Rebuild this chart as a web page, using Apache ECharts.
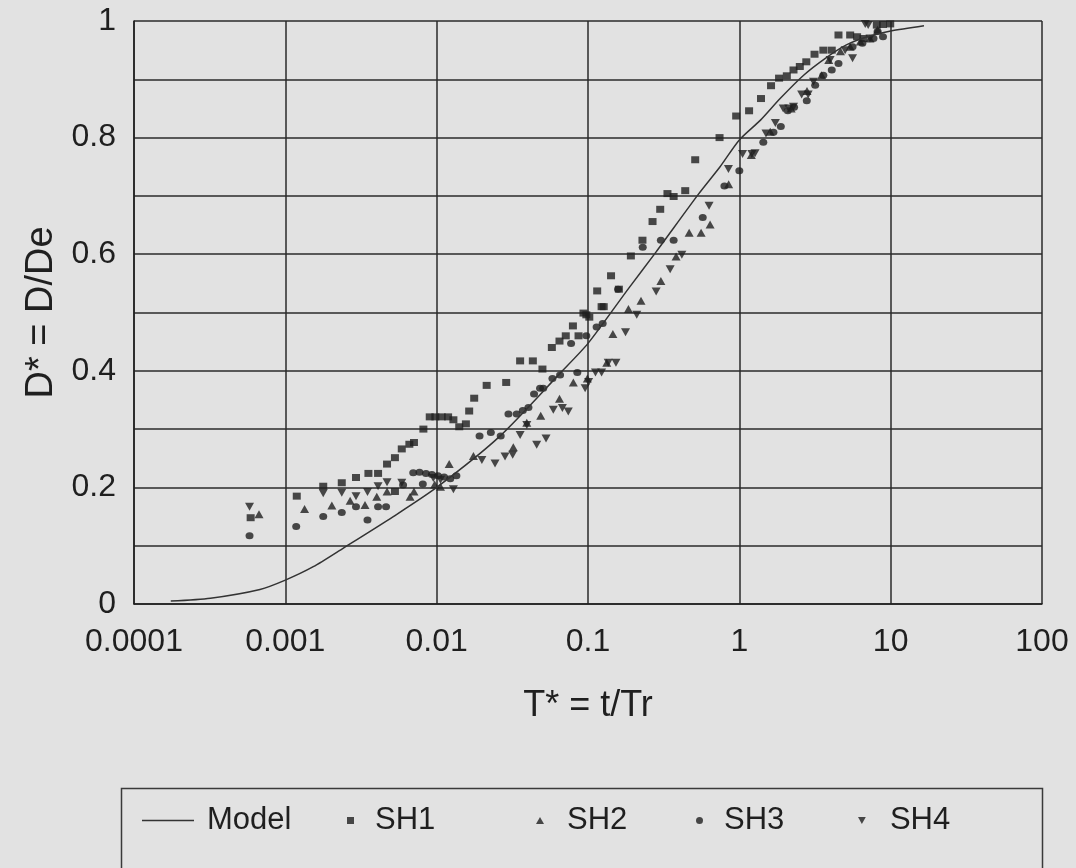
<!DOCTYPE html>
<html>
<head>
<meta charset="utf-8">
<script src="https://cdn.jsdelivr.net/npm/echarts@6/dist/echarts.min.js"></script>
<style>
html,body{margin:0;padding:0;background:#e2e2e2;}
#c{width:1076px;height:868px;}
</style>
</head>
<body>
<div id="c"></div>
<script>
var xTickLabels = ['0.0001','0.001','0.01','0.1','1','10','100'];
var yTickLabels = ['0','0.2','0.4','0.6','0.8','1'];

var model = [[0.000175,0.005],[0.00032,0.010],[0.00068,0.025],[0.001,0.041],[0.00153,0.064],[0.00242,0.096],[0.00517,0.150],[0.01,0.200],[0.0262,0.288],[0.0655,0.396],[0.1,0.447],[0.185,0.541],[0.282,0.604],[0.537,0.703],[0.746,0.750],[1.0,0.796],[1.38,0.830],[1.86,0.867],[2.66,0.907],[3.7,0.936],[5.1,0.959],[7.0,0.973],[10,0.983],[16.6,0.992]];

var sh1 = [[0.00059,0.148],[0.00119,0.185],[0.00178,0.202],[0.00236,0.208],[0.00293,0.217],[0.00354,0.224],[0.0041,0.224],[0.0047,0.240],[0.0053,0.251],[0.0053,0.193],[0.00588,0.266],[0.0066,0.274],[0.00708,0.277],[0.00817,0.300],[0.0090,0.321],[0.0098,0.321],[0.0108,0.321],[0.0119,0.321],[0.0129,0.316],[0.0141,0.304],[0.0156,0.309],[0.0164,0.331],[0.0177,0.353],[0.0214,0.375],[0.0288,0.380],[0.0356,0.417],[0.0432,0.417],[0.050,0.403],[0.0577,0.440],[0.0648,0.451],[0.0713,0.460],[0.0795,0.477],[0.0866,0.460],[0.0933,0.499],[0.0975,0.496],[0.102,0.492],[0.115,0.537],[0.123,0.510],[0.127,0.510],[0.142,0.563],[0.160,0.540],[0.192,0.597],[0.229,0.624],[0.267,0.656],[0.300,0.677],[0.335,0.704],[0.368,0.699],[0.439,0.709],[0.511,0.762],[0.740,0.800],[0.953,0.837],[1.16,0.846],[1.39,0.867],[1.62,0.889],[1.83,0.902],[2.06,0.906],[2.28,0.916],[2.51,0.922],[2.77,0.930],[3.14,0.943],[3.59,0.950],[4.08,0.950],[4.52,0.976],[5.40,0.976],[6.0,0.973],[6.61,0.970],[8.1,0.993],[8.9,0.994],[9.93,0.995]];

var sh2 = [[0.00067,0.154],[0.00134,0.163],[0.00203,0.169],[0.00268,0.177],[0.00336,0.170],[0.00402,0.184],[0.0047,0.193],[0.00667,0.184],[0.00708,0.193],[0.0097,0.205],[0.0106,0.201],[0.0121,0.240],[0.0175,0.254],[0.0321,0.269],[0.0394,0.311],[0.0487,0.323],[0.0648,0.352],[0.080,0.380],[0.099,0.387],[0.133,0.414],[0.146,0.463],[0.185,0.506],[0.224,0.520],[0.303,0.554],[0.382,0.596],[0.466,0.637],[0.559,0.637],[0.641,0.651],[0.85,0.72],[1.2,0.77],[1.6,0.81],[2.2,0.85],[2.8,0.88],[3.5,0.907],[3.9,0.933],[4.66,0.948],[5.4,0.956],[6.3,0.965],[7.3,0.97],[8.2,0.985]];

var sh3 = [[0.00058,0.117],[0.00118,0.133],[0.00178,0.150],[0.00236,0.157],[0.00293,0.167],[0.00349,0.144],[0.0041,0.167],[0.00463,0.167],[0.0060,0.204],[0.0070,0.225],[0.0077,0.226],[0.0085,0.224],[0.0081,0.206],[0.0093,0.222],[0.0102,0.220],[0.0112,0.218],[0.0123,0.215],[0.0135,0.220],[0.0192,0.288],[0.0228,0.294],[0.0265,0.288],[0.0298,0.326],[0.0338,0.326],[0.0371,0.332],[0.0404,0.337],[0.044,0.360],[0.0482,0.370],[0.0506,0.370],[0.0582,0.387],[0.0654,0.393],[0.0773,0.447],[0.085,0.397],[0.0975,0.460],[0.114,0.475],[0.125,0.481],[0.158,0.540],[0.230,0.612],[0.303,0.624],[0.368,0.624],[0.573,0.663],[0.797,0.717],[1.0,0.743],[1.44,0.792],[1.68,0.809],[1.88,0.819],[2.09,0.846],[2.30,0.852],[2.79,0.863],[3.17,0.890],[3.59,0.907],[4.08,0.916],[4.52,0.927],[5.6,0.956],[6.5,0.962],[7.7,0.970],[8.2,0.982],[8.9,0.973]];

var sh4 = [[0.00058,0.167],[0.00178,0.190],[0.00236,0.191],[0.00293,0.185],[0.00349,0.192],[0.0041,0.202],[0.0047,0.209],[0.00588,0.208],[0.0095,0.216],[0.0106,0.213],[0.0129,0.197],[0.0199,0.247],[0.0243,0.241],[0.0283,0.253],[0.0318,0.256],[0.0356,0.290],[0.0394,0.307],[0.0458,0.273],[0.0528,0.284],[0.059,0.333],[0.0677,0.336],[0.0741,0.330],[0.0957,0.370],[0.101,0.381],[0.112,0.397],[0.123,0.397],[0.136,0.414],[0.153,0.414],[0.177,0.466],[0.210,0.496],[0.282,0.536],[0.349,0.574],[0.417,0.599],[0.631,0.683],[0.847,0.746],[1.05,0.772],[1.21,0.772],[1.27,0.773],[1.50,0.807],[1.73,0.825],[1.95,0.850],[2.12,0.850],[2.28,0.853],[2.58,0.874],[2.85,0.874],[3.09,0.896],[3.98,0.933],[5.0,0.950],[5.6,0.936],[6.79,0.995],[7.1,0.993],[7.3,0.970]];

var ink = '#1f1f1f';
var FONT = 'Liberation Sans, Arial, sans-serif';
var DOWN_TRI = 'path://M0,0L10,0L5,9Z';
var chart = echarts.init(document.getElementById('c'));

function legendItem(item, left, w, h, pad) {
  return {
    data: [item], left: left, top: 800, itemWidth: w, itemHeight: h, itemGap: 0,
    textStyle: {fontFamily: FONT, fontSize: 31, color: ink, padding: [0,0,0,pad]},
    inactiveColor: ink, selectedMode: false
  };
}

chart.setOption({
  backgroundColor: '#e2e2e2',
  animation: false,
  grid: {left: 134, right: 34, top: 21, bottom: 264, containLabel: false},
  xAxis: {
    type: 'log', logBase: 10, min: 0.0001, max: 100,
    name: 'T* = t/Tr', nameLocation: 'middle', nameGap: 84,
    nameTextStyle: {fontFamily: FONT, fontSize: 36, color: ink},
    axisLine: {show: true, lineStyle: {color: ink, width: 1.5}},
    axisTick: {show: false},
    minorTick: {show: false},
    splitLine: {show: true, lineStyle: {color: '#2a2a2a', width: 1.5}},
    axisLabel: {
      margin: 22, fontFamily: FONT, fontSize: 32, color: ink,
      formatter: function (v) { var i = Math.round(Math.log10(v)) + 4; return xTickLabels[i] || ''; }
    }
  },
  yAxis: {
    type: 'value', min: 0, max: 1, interval: 0.1,
    name: 'D* = D/De', nameLocation: 'middle', nameGap: 69, nameRotate: 90,
    nameTextStyle: {fontFamily: FONT, fontSize: 38, color: ink},
    axisLine: {show: true, lineStyle: {color: ink, width: 1.5}},
    axisTick: {show: false},
    splitLine: {show: true, lineStyle: {color: '#2a2a2a', width: 1.5}},
    axisLabel: {
      margin: 18, fontFamily: FONT, fontSize: 32, color: ink,
      formatter: function (v) { var k = Math.round(v * 10); return k % 2 === 0 ? yTickLabels[k / 2] : ''; }
    }
  },
  legend: [
    legendItem({name: 'Model', icon: 'rect'}, 137, 52, 1.5, 8),
    legendItem({name: 'SH1', icon: 'rect'}, 342, 7, 7, 16),
    legendItem({name: 'SH2', icon: 'triangle'}, 531, 8, 7, 18),
    legendItem({name: 'SH3', icon: 'circle'}, 691, 7, 7, 16),
    legendItem({name: 'SH4', icon: DOWN_TRI}, 853, 8, 7, 19)
  ],
  graphic: [{
    type: 'rect', left: 119, top: 786, silent: true, z: -1,
    shape: {width: 921, height: 120},
    style: {fill: 'none', stroke: '#3a3a3a', lineWidth: 1.5}
  }],
  series: [
    {name: 'Model', type: 'line', data: model, showSymbol: false, symbol: 'none', smooth: 0.25,
     lineStyle: {color: '#333', width: 1.5}, itemStyle: {color: '#333'}, z: 3},
    {name: 'SH1', type: 'scatter', data: sh1, symbol: 'rect', symbolSize: [8, 7],
     itemStyle: {color: ink}},
    {name: 'SH2', type: 'scatter', data: sh2, symbol: 'triangle', symbolSize: [9, 8],
     itemStyle: {color: ink}},
    {name: 'SH3', type: 'scatter', data: sh3, symbol: 'circle', symbolSize: [8, 7],
     itemStyle: {color: ink}},
    {name: 'SH4', type: 'scatter', data: sh4, symbol: 'triangle', symbolRotate: 180, symbolSize: [9, 8],
     itemStyle: {color: ink}}
  ]
});
</script>
</body>
</html>
